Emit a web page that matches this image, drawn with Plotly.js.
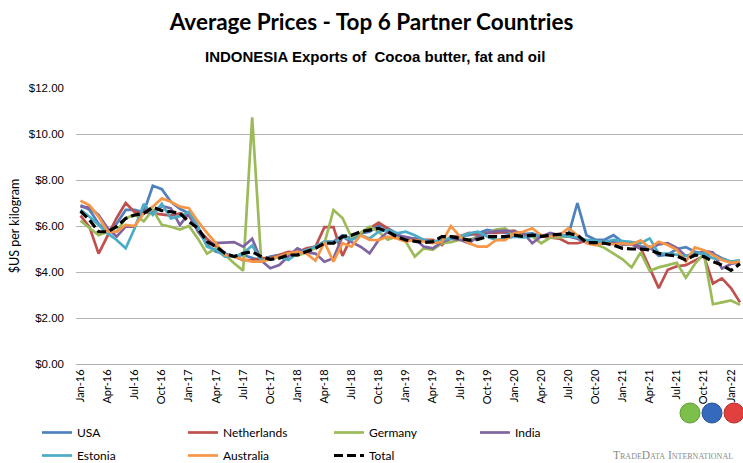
<!DOCTYPE html>
<html>
<head>
<meta charset="utf-8">
<script src="https://cdn.plot.ly/plotly-3.0.1.min.js"></script>
<style>
html,body{margin:0;padding:0;background:#fff;}
#chart{width:743px;height:463px;}
</style>
</head>
<body>
<div id="chart"></div>
<script>
// ---- data ----
const months = [
 'Jan-16','Feb-16','Mar-16','Apr-16','May-16','Jun-16','Jul-16','Aug-16','Sep-16','Oct-16','Nov-16','Dec-16',
 'Jan-17','Feb-17','Mar-17','Apr-17','May-17','Jun-17','Jul-17','Aug-17','Sep-17','Oct-17','Nov-17','Dec-17',
 'Jan-18','Feb-18','Mar-18','Apr-18','May-18','Jun-18','Jul-18','Aug-18','Sep-18','Oct-18','Nov-18','Dec-18',
 'Jan-19','Feb-19','Mar-19','Apr-19','May-19','Jun-19','Jul-19','Aug-19','Sep-19','Oct-19','Nov-19','Dec-19',
 'Jan-20','Feb-20','Mar-20','Apr-20','May-20','Jun-20','Jul-20','Aug-20','Sep-20','Oct-20','Nov-20','Dec-20',
 'Jan-21','Feb-21','Mar-21','Apr-21','May-21','Jun-21','Jul-21','Aug-21','Sep-21','Oct-21','Nov-21','Dec-21',
 'Jan-22','Feb-22'
];
const tickLabels = ['Jan-16','Apr-16','Jul-16','Oct-16','Jan-17','Apr-17','Jul-17','Oct-17','Jan-18','Apr-18','Jul-18','Oct-18',
 'Jan-19','Apr-19','Jul-19','Oct-19','Jan-20','Apr-20','Jul-20','Oct-20','Jan-21','Apr-21','Jul-21','Oct-21','Jan-22'];
const yTicks = [0, 2, 4, 6, 8, 10, 12];

const usa = [
 6.9, 6.7, 6.1, 5.75, 6.1, 6.7, 6.7, 6.6, 7.75, 7.6, 7.05, 6.75,
 6.55, 5.97, 5.17, 4.88, 4.8, 4.67, 4.74, 4.6, 4.49, 4.67, 4.74, 4.81,
 4.88, 4.88, 5.1, 5.32, 5.32, 5.6, 5.46, 5.68, 5.75, 6.04, 5.9, 5.68,
 5.39, 5.46, 5.39, 5.32, 5.32, 5.46, 5.54, 5.6, 5.68, 5.83, 5.75, 5.7,
 5.7, 5.65, 5.68, 5.55, 5.6, 5.55, 5.6, 7.0, 5.6, 5.4, 5.4, 5.6,
 5.3, 5.3, 5.1, 5.1, 4.7, 4.75, 5.0, 5.08, 4.88, 4.8, 4.8, 4.6,
 4.45, 4.5
];
const netherlands = [
 6.45, 5.95, 4.8, 5.6, 6.35, 7.0, 6.6, 6.6, 6.55, 6.5, 6.45, 6.55,
 6.45, 5.85, 5.45, 5.1, 4.74, 4.67, 4.52, 4.52, 4.6, 4.6, 4.74, 4.88,
 4.85, 5.03, 5.1, 5.95, 5.95, 4.7, 5.55, 5.7, 5.9, 6.15, 5.9, 5.55,
 5.4, 5.4, 5.4, 5.4, 5.17, 5.55, 5.55, 5.7, 5.6, 5.7, 5.7, 5.75,
 5.8, 5.6, 5.55, 5.55, 5.5, 5.45, 5.25, 5.25, 5.35, 5.3, 5.3, 5.3,
 5.2, 5.25, 5.05, 4.2, 3.3, 4.1, 4.25, 4.3, 4.5, 4.7, 3.5, 3.72,
 3.3, 2.68
];
const germany = [
 6.23, 5.9, 5.6, 5.75, 5.75, 6.33, 6.5, 6.2, 6.7, 6.05, 5.97, 5.85,
 6.0, 5.45, 4.8, 5.03, 4.74, 4.38, 4.06, 10.72, 4.5, 4.55, 4.67, 4.8,
 4.7, 4.88, 5.03, 5.25, 6.7, 6.35, 5.5, 5.7, 5.97, 5.75, 5.4, 5.54,
 5.32, 4.67, 5.03, 4.96, 5.25, 5.3, 5.4, 5.39, 5.54, 5.68, 5.85, 5.9,
 5.6, 5.6, 5.55, 5.25, 5.5, 5.5, 5.55, 5.5, 5.3, 5.2, 5.05, 4.8,
 4.55, 4.2, 4.85, 4.05, 4.2, 4.3, 4.4, 3.75, 4.35, 4.8, 2.6, 2.68,
 2.76, 2.57
];
const india = [
 6.84, 6.8, 6.48, 5.9, 5.54, 5.97, 5.97, 6.7, 6.55, 6.87, 6.77, 6.04,
 6.55, 5.75, 5.25, 5.25, 5.28, 5.3, 5.1, 5.45, 4.5, 4.16, 4.3, 4.67,
 5.03, 4.85, 4.8, 4.45, 4.6, 5.54, 5.3, 5.1, 4.81, 5.39, 5.75, 5.6,
 5.54, 5.45, 5.1, 5.03, 5.3, 5.45, 5.4, 5.25, 5.55, 5.7, 5.78, 5.8,
 5.75, 5.7, 5.25, 5.55, 5.7, 5.6, 5.55, 5.45, 5.3, 5.3, 5.25, 5.3,
 5.2, 5.2, 5.0, 5.0, 5.2, 5.25, 5.05, 4.7, 4.7, 4.92, 4.85, 4.15,
 4.35, 4.43
];
const estonia = [
 6.7, 6.4, 6.04, 5.68, 5.39, 5.03, 5.9, 6.96, 6.48, 6.96, 6.33, 6.43,
 6.62, 5.97, 5.1, 4.96, 4.67, 4.67, 4.81, 5.15, 4.5, 4.55, 4.65, 4.52,
 4.81, 4.96, 5.1, 5.32, 5.25, 5.54, 5.39, 5.6, 5.46, 5.75, 5.83, 5.68,
 5.75, 5.6, 5.39, 5.32, 5.39, 5.46, 5.54, 5.68, 5.75, 5.54, 5.39, 5.46,
 5.54, 5.5, 5.55, 5.6, 5.55, 5.6, 5.55, 5.5, 5.4, 5.35, 5.3, 5.4,
 5.35, 5.3, 5.25, 5.46, 4.81, 4.8, 4.75, 4.7, 4.8, 4.8, 4.6, 4.55,
 4.45, 4.5
];
const australia = [
 7.1, 6.9, 6.4, 5.75, 5.75, 6.05, 6.0, 6.55, 6.84, 7.2, 7.05, 6.84,
 6.77, 6.2, 5.7, 5.25, 4.74, 4.67, 4.55, 4.45, 4.45, 4.55, 4.67, 4.81,
 4.88, 4.81, 4.49, 5.3, 4.45, 5.25, 5.1, 5.6, 5.4, 5.39, 5.54, 5.46,
 5.32, 5.39, 5.32, 5.25, 5.3, 6.0, 5.54, 5.25, 5.1, 5.1, 5.39, 5.39,
 5.68, 5.75, 5.9, 5.6, 5.55, 5.6, 5.9, 5.6, 5.25, 5.17, 5.25, 5.2,
 5.25, 5.2, 5.38, 5.05, 5.32, 5.17, 4.96, 4.45, 5.07, 4.95, 4.74, 4.52,
 4.4, 4.45
];
const total = [
 6.65, 6.26, 5.75, 5.75, 5.97, 6.33, 6.48, 6.55, 6.81, 6.67, 6.62, 6.55,
 6.19, 5.9, 5.32, 5.1, 4.81, 4.67, 4.81, 4.88, 4.67, 4.55, 4.6, 4.74,
 4.74, 4.88, 5.03, 5.25, 5.25, 5.54, 5.6, 5.75, 5.83, 5.9, 5.75, 5.54,
 5.39, 5.32, 5.28, 5.32, 5.54, 5.54, 5.46, 5.39, 5.42, 5.54, 5.54, 5.54,
 5.6, 5.55, 5.6, 5.55, 5.6, 5.65, 5.68, 5.6, 5.28, 5.28, 5.25, 5.17,
 5.03, 5.0, 5.0, 4.96, 4.81, 4.74, 4.7, 4.52, 4.74, 4.67, 4.45, 4.3,
 4.07, 4.36
];

// ---- traces ----
function series(name, values, color, legend, width, dash) {
  return {
    type: 'scatter', mode: 'lines', name: name,
    x: months, y: values,
    line: {color: color, width: width, dash: dash || 'solid'},
    legend: legend, hoverinfo: 'x+y+name'
  };
}
const data = [
  series('USA', usa, '#4F81BD', 'legend', 2.7),
  series('Netherlands', netherlands, '#C0504D', 'legend', 2.7),
  series('Germany', germany, '#9BBB59', 'legend', 2.7),
  series('India', india, '#8064A2', 'legend', 2.7),
  series('Estonia', estonia, '#4BACC6', 'legend2', 2.7),
  series('Australia', australia, '#F79646', 'legend2', 2.7),
  series('Total', total, '#000000', 'legend2', 3.2, '9px,4px')
];

const L = 76, T = 88, W = 667, H = 276;
function px(x) { return (x - L) / W; }
function py(y) { return (T + H - y) / H; }

const legendCommon = {
  orientation: 'h', xanchor: 'left', yanchor: 'top',
  entrywidth: 101, entrywidthmode: 'pixels',
  font: {family: 'Lato, sans-serif', size: 12, color: '#000'},
  bgcolor: 'rgba(0,0,0,0)', itemclick: false, itemdoubleclick: false
};

function globe(cx, fill, edge) {
  return {type: 'circle', xref: 'paper', yref: 'paper', xsizemode: 'pixel', ysizemode: 'pixel',
    xanchor: px(cx), yanchor: py(413), x0: -10, x1: 10, y0: -10, y1: 10,
    fillcolor: fill, line: {color: edge, width: 1}};
}

const layout = {
  width: 743, height: 463,
  margin: {l: L, r: 0, t: T, b: 463 - T - H, pad: 0, autoexpand: false},
  paper_bgcolor: '#ffffff', plot_bgcolor: '#ffffff',
  font: {family: 'Lato, sans-serif', color: '#000'},
  showlegend: true,
  title: {
    text: '<b>Average Prices - Top 6 Partner Countries</b>',
    font: {family: 'Lato, sans-serif', size: 22.5, color: '#000'},
    x: 0.5, xref: 'container', xanchor: 'center',
    y: 1 - 22 / 463, yref: 'container', yanchor: 'middle'
  },
  xaxis: {
    type: 'category',
    range: [-0.5, 73.33],
    tickmode: 'array', tickvals: tickLabels, ticktext: tickLabels,
    tickangle: -90,
    tickfont: {family: 'Lato, sans-serif', size: 11, color: '#000'},
    showgrid: false, zeroline: false,
    showline: true, linecolor: '#AFAFAF', linewidth: 1,
    ticks: '', fixedrange: true, automargin: false
  },
  yaxis: {
    range: [0, 12],
    tickmode: 'array', tickvals: yTicks,
    tickformat: '$.2f',
    tickfont: {family: 'Liberation Sans, Arial, sans-serif', size: 11.5, color: '#000'},
    ticklabelstandoff: 11,
    showgrid: true, gridcolor: '#B4B4B4', gridwidth: 1,
    zeroline: false, showline: false, ticks: '',
    fixedrange: true, automargin: false,
    title: {text: '$US per kilogram', font: {family: 'Lato, sans-serif', size: 12.5, color: '#000'}, standoff: 6}
  },
  legend: Object.assign({}, legendCommon, {x: px(37), y: py(418)}),
  legend2: Object.assign({}, legendCommon, {x: px(37), y: py(441)}),
  annotations: [
    {
      text: '<b>INDONESIA Exports of  Cocoa butter, fat and oil</b>',
      xref: 'paper', yref: 'paper', x: px(375), y: py(57),
      xanchor: 'center', yanchor: 'middle', showarrow: false,
      font: {family: 'Liberation Sans, Arial, sans-serif', size: 15, color: '#000'}
    },
    {
      text: 'TradeData International',
      xref: 'paper', yref: 'paper', x: px(673), y: py(455),
      xanchor: 'center', yanchor: 'middle', showarrow: false,
      font: {family: 'Liberation Serif, DejaVu Serif, serif', size: 11.5, color: '#8A8A8A', variant: 'small-caps'}
    }
  ],
  shapes: [
    globe(690, '#7CBF4A', '#5E9E36'),
    globe(712, '#3569BE', '#24508F'),
    globe(734, '#E2403F', '#B52A2A')
  ]
};

Plotly.newPlot('chart', data, layout, {displayModeBar: false, responsive: false});
</script>
</body>
</html>
